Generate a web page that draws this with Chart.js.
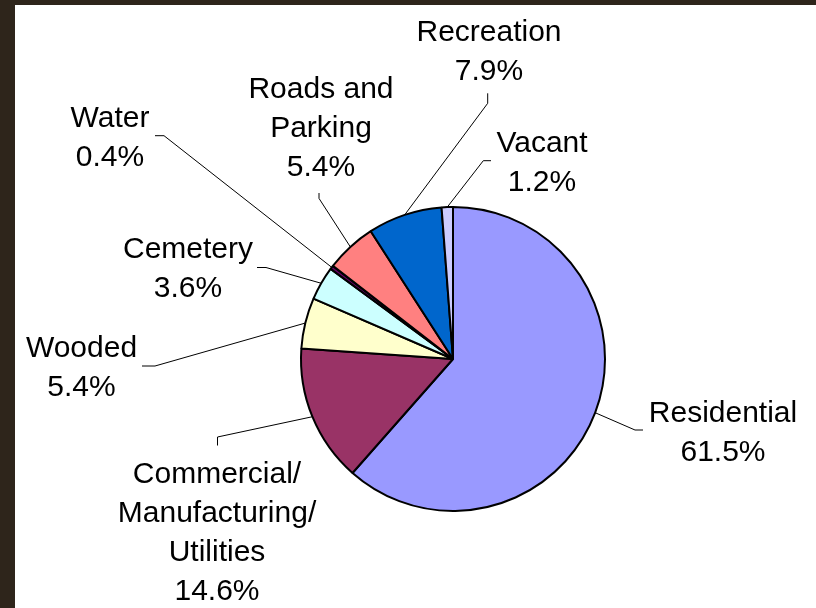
<!DOCTYPE html>
<html>
<head>
<meta charset="utf-8">
<script src="https://cdn.jsdelivr.net/npm/chart.js@4.4.1/dist/chart.umd.min.js"></script>
<style>
  html, body { margin: 0; padding: 0; background: #2e251b; }
  #wrap { position: relative; width: 816px; height: 608px; }
</style>
</head>
<body>
<div id="wrap"><canvas id="c" width="816" height="608"></canvas></div>
<script>
// ---- data ----
const categories = ['Residential', 'Commercial/Manufacturing/Utilities', 'Wooded', 'Cemetery', 'Water', 'Roads and Parking', 'Recreation', 'Vacant'];
const labelLines = [['Residential'], ['Commercial/', 'Manufacturing/', 'Utilities'], ['Wooded'], ['Cemetery'], ['Water'], ['Roads and', 'Parking'], ['Recreation'], ['Vacant']];
const shares = [61.5, 14.6, 5.4, 3.6, 0.4, 5.4, 7.9, 1.2];
const sliceColors = ['#9999FF', '#993366', '#FFFFCC', '#CCFFFF', '#660066', '#FF8080', '#0066CC', '#CCCCFF'];

// ---- label layout (offsets from pie centre) ----
const labelText = [[270, 63], [-236, 124], [-371.5, -2.3], [-265, -100.7], [-343, -232.3], [-132, -260.7], [36, -318.3], [89, -207.3]];
const leaderElbow = [[182, 71], [-235.5, 78], [-298, 7], [-187, -91.5], [-289, -223.3], [-134, -160.6], [34.7, -255.7], [30.3, -198.3]];
const leaderEnd = [[190, 71], [-235.5, 86.5], [-311, 7], [-196, -91.5], [-298, -223.3], [-134, -166], [34.7, -265.7], [38, -198.3]];

const panelPlugin = {
  id: 'panel',
  beforeDraw(chart) {
    const ctx = chart.ctx;
    ctx.save();
    ctx.fillStyle = '#2e251b';
    ctx.fillRect(0, 0, chart.width, chart.height);
    ctx.fillStyle = '#ffffff';
    ctx.fillRect(15, 5, chart.width - 15, chart.height - 5);
    ctx.restore();
  }
};

const labelPlugin = {
  id: 'pieLabels',
  afterDatasetsDraw(chart) {
    const ctx = chart.ctx;
    const meta = chart.getDatasetMeta(0);
    ctx.save();
    meta.data.forEach((arc, i) => {
      const cx = arc.x, cy = arc.y;
      const mid = (arc.startAngle + arc.endAngle) / 2;
      const r = arc.outerRadius;
      const ex = cx + Math.cos(mid) * r;
      const ey = cy + Math.sin(mid) * r;
      // leader line
      ctx.strokeStyle = '#000';
      ctx.lineWidth = 1;
      ctx.beginPath();
      ctx.moveTo(ex, ey);
      ctx.lineTo(cx + leaderElbow[i][0], cy + leaderElbow[i][1]);
      ctx.lineTo(cx + leaderEnd[i][0], cy + leaderEnd[i][1]);
      ctx.stroke();
      // text
      ctx.fillStyle = '#000';
      ctx.font = '30px "Liberation Sans", Arial, sans-serif';
      ctx.textAlign = 'center';
      ctx.textBaseline = 'alphabetic';
      const lines = labelLines[i].concat([shares[i].toFixed(1) + '%']);
      const tx = cx + labelText[i][0];
      let ty = cy + labelText[i][1];
      lines.forEach(line => {
        ctx.fillText(line, tx, ty);
        ty += 39;
      });
    });
    ctx.restore();
  }
};

new Chart(document.getElementById('c'), {
  type: 'pie',
  data: {
    labels: categories,
    datasets: [{
      data: shares,
      backgroundColor: sliceColors,
      borderColor: '#000000',
      borderWidth: 2,
      borderAlign: 'center'
    }]
  },
  options: {
    responsive: false,
    animation: false,
    rotation: 0,
    layout: { padding: { left: 300, right: 210, top: 206, bottom: 96 } },
    plugins: {
      legend: { display: false },
      tooltip: { enabled: false },
      title: { display: false }
    }
  },
  plugins: [panelPlugin, labelPlugin]
});
</script>
</body>
</html>
